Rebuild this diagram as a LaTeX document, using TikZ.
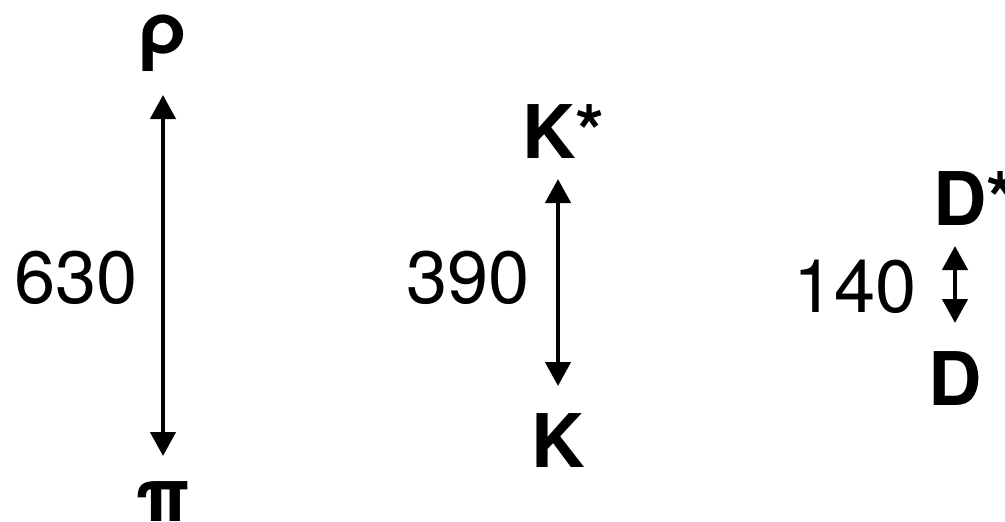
\documentclass[tikz,border=0pt]{standalone}
\usepackage{fontspec}
\setmainfont{TeX Gyre Heros}
\usepackage{tikz}
\usetikzlibrary{arrows.meta, positioning}

\begin{document}
\begin{tikzpicture}[
    x=1pt, y=-1pt,
    particula/.style={inner sep=0pt, font=\fontsize{74}{80}\selectfont\bfseries},
    masa/.style={inner sep=0pt, anchor=base east, font=\fontsize{74}{80}\selectfont},
    flecha/.style={{Triangle[width=25pt,length=24pt]}-{Triangle[width=25pt,length=24pt]}, line width=4.5pt}
]
\useasboundingbox (0,0) rectangle (1005,522);

% pares de mesones
\node (rho) [particula, anchor=base] at (163,54) {ρ};
\node (pion) [particula, anchor=base] at (163,521) {π};
\node (kest) [particula, anchor=base west] at (522,158) {K*};
\node (kaon) [particula, anchor=base] at (558,467) {K};
\node (dest) [particula, anchor=base west] at (933,225) {D*};
\node (dmes) [particula, anchor=base] at (955,405) {D};

% diferencias de masa
\node (m630) [masa] at (138,303) {630};
\node (m390) [masa] at (530,303) {390};
\node (m140) [masa] at (917,312) {140};

\draw [flecha] ([yshift=-41pt]rho.base) -- ([yshift=65pt]pion.base);
\draw [flecha] ([yshift=-21pt]kaon.base |- kest.base) -- ([yshift=81pt]kaon.base);
\draw [flecha] ([yshift=-21pt]dmes.base |- dest.base) -- ([yshift=82pt]dmes.base);

\end{tikzpicture}
\end{document}
